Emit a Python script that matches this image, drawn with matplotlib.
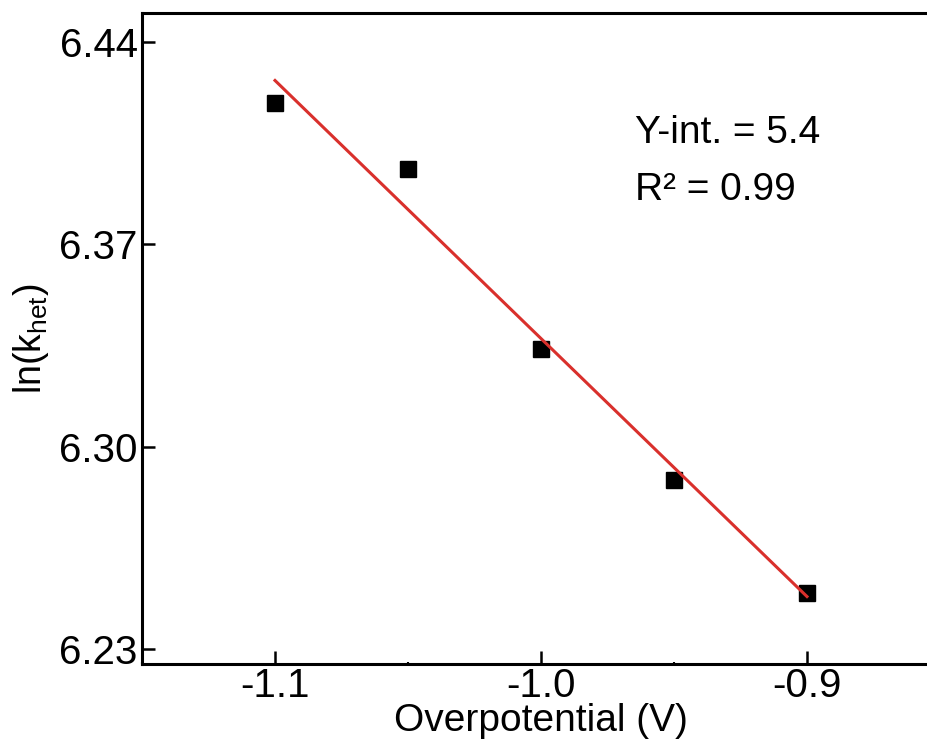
import matplotlib
matplotlib.use("Agg")
import matplotlib.pyplot as plt
import numpy as np
from matplotlib.ticker import FixedLocator, AutoMinorLocator

# data
overpotential = [-1.1, -1.05, -1.0, -0.95, -0.9]
ln_khet = [6.4189, 6.3961, 6.3339, 6.2886, 6.2495]

x_ticks = [-1.1, -1.0, -0.9]
x_tick_labels = ["-1.1", "-1.0", "-0.9"]
y_ticks = [6.23, 6.30, 6.37, 6.44]
y_tick_labels = ["6.23", "6.30", "6.37", "6.44"]

plt.rcParams['font.family'] = ['Liberation Sans', 'DejaVu Sans']
plt.rcParams['mathtext.fontset'] = 'custom'
plt.rcParams['mathtext.rm'] = 'Liberation Sans'
plt.rcParams['mathtext.it'] = 'Liberation Sans:italic'

fig = plt.figure(figsize=(9.27, 7.43), dpi=100)
# right spine sits just outside the picture, like the cropped original
ax = fig.add_axes([0.1532, 0.1063, 0.8608, 0.8762])

# linear fit
slope, intercept = np.polyfit(overpotential, ln_khet, 1)
fit_x = np.array([overpotential[0], overpotential[-1]])
ax.plot(fit_x, slope * fit_x + intercept, color='#d9302c', lw=2.2, zorder=3)

ax.plot(overpotential, ln_khet, 's', color='black', ms=11.5, zorder=2)

ax.set_xlim(-1.15, -0.85)
ax.set_ylim(6.2248, 6.4500)

ax.xaxis.set_major_locator(FixedLocator(x_ticks))
ax.set_xticklabels(x_tick_labels)
ax.yaxis.set_major_locator(FixedLocator(y_ticks))
ax.set_yticklabels(y_tick_labels)
ax.xaxis.set_minor_locator(AutoMinorLocator(2))
ax.yaxis.set_minor_locator(AutoMinorLocator(2))

ax.tick_params(which='major', direction='in', length=9.5, width=1.8,
               labelsize=29, pad=3)
ax.tick_params(axis='x', which='major', pad=2)
ax.tick_params(which='minor', direction='in', length=1.5, width=1.5)
for s in ax.spines.values():
    s.set_linewidth(2.2)

ax.set_xlabel('Overpotential (V)', fontsize=28, labelpad=-1)
ax.set_ylabel('ln(k$_\\mathrm{het}$)', fontsize=27, labelpad=6)

ax.text(-0.9646, 6.4086, 'Y-int. = {:.1f}'.format(intercept), fontsize=28,
        va='center', ha='left')
ax.text(-0.9646, 6.3888, 'R\u00b2 = 0.99', fontsize=28,
        va='center', ha='left')

fig.savefig('out.png', dpi=100)
